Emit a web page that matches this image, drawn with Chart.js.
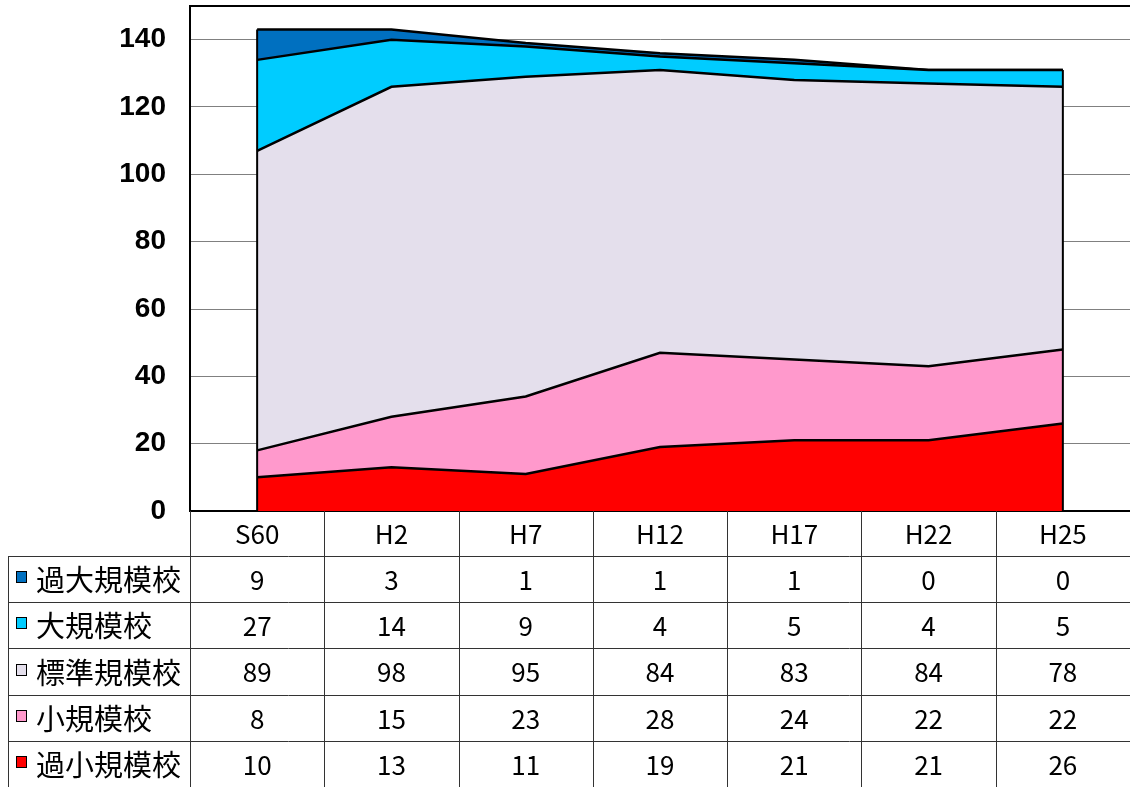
<!DOCTYPE html>
<html lang="ja">
<head>
<meta charset="utf-8">
<script src="https://cdn.jsdelivr.net/npm/chart.js@4.4.1/dist/chart.umd.min.js"></script>
<style>
  html, body { margin: 0; padding: 0; background: #fff; }
  #wrap { width: 1130px; height: 787px; }
</style>
</head>
<body>
<div id="wrap"><canvas id="areaChart" width="1130" height="787"></canvas></div>
<script>
// data
const categories = ['S60', 'H2', 'H7', 'H12', 'H17', 'H22', 'H25'];
const kashoValues = [10, 13, 11, 19, 21, 21, 26];    // 過小規模校
const shoValues = [8, 15, 23, 28, 24, 22, 22];       // 小規模校
const hyojunValues = [89, 98, 95, 84, 83, 84, 78];   // 標準規模校
const daiValues = [27, 14, 9, 4, 5, 4, 5];           // 大規模校
const kadaiValues = [9, 3, 1, 1, 1, 0, 0];           // 過大規模校
const seriesNames = ['過小規模校', '小規模校', '標準規模校', '大規模校', '過大規模校'];
const seriesColors = ['#ff0000', '#ff99cc', '#e4dfec', '#00ccff', '#0070c0'];
const yTicks = [0, 20, 40, 60, 80, 100, 120, 140];
const yMax = 150;

const seriesValues = [kashoValues, shoValues, hyojunValues, daiValues, kadaiValues];

const tableFont = '"Noto Sans CJK JP", "Noto Sans", sans-serif';

// Draws the top frame, the area's end edges and the data table under the plot
const tablePlugin = {
    id: 'dataTable',
    afterDatasetsDraw(chart) {
        const ctx = chart.ctx;
        const area = chart.chartArea;
        const y = chart.scales.y;
        const topMeta = chart.getDatasetMeta(chart.data.datasets.length - 1);
        const first = topMeta.data[0];
        const last = topMeta.data[topMeta.data.length - 1];

        ctx.save();
        ctx.strokeStyle = '#000';
        ctx.lineWidth = 2;
        ctx.beginPath();
        ctx.moveTo(first.x, y.getPixelForValue(0));
        ctx.lineTo(first.x, first.y);
        ctx.moveTo(last.x, y.getPixelForValue(0));
        ctx.lineTo(last.x, last.y);
        ctx.stroke();

        // top frame
        ctx.beginPath();
        ctx.moveTo(area.left - 1, area.top);
        ctx.lineTo(area.right, area.top);
        ctx.stroke();
        ctx.restore();
    },
    afterDraw(chart) {
        const ctx = chart.ctx;
        const area = chart.chartArea;
        const x = chart.scales.x;
        const band = (area.right - area.left) / categories.length;
        const headerH = 45;
        const rowH = (chart.height - area.bottom - headerH) / seriesNames.length;
        const tableTop = area.bottom;
        const bodyTop = tableTop + headerH;
        const labelLeft = 8;

        ctx.save();
        ctx.strokeStyle = '#333';
        ctx.lineWidth = 1;

        // horizontal lines
        for (let r = 0; r < seriesNames.length; r++) {
            const ly = Math.round(bodyTop + r * rowH) + 0.5;
            ctx.beginPath();
            ctx.moveTo(labelLeft, ly);
            ctx.lineTo(area.right, ly);
            ctx.stroke();
        }
        // vertical lines
        ctx.beginPath();
        ctx.moveTo(labelLeft + 0.5, bodyTop);
        ctx.lineTo(labelLeft + 0.5, chart.height);
        ctx.stroke();
        for (let i = 0; i < categories.length; i++) {
            const lx = Math.round(area.left + i * band) + 0.5;
            ctx.beginPath();
            ctx.moveTo(lx, tableTop);
            ctx.lineTo(lx, chart.height);
            ctx.stroke();
        }

        ctx.fillStyle = '#000';
        ctx.textBaseline = 'middle';
        ctx.textAlign = 'center';
        ctx.font = '26px ' + tableFont;
        categories.forEach((c, i) => {
            ctx.fillText(c, x.getPixelForValue(i), tableTop + headerH / 2 + 1);
        });

        // rows top to bottom are the stack from top to bottom
        for (let r = 0; r < seriesNames.length; r++) {
            const s = seriesNames.length - 1 - r;
            const cy = bodyTop + r * rowH + rowH / 2;

            ctx.fillStyle = seriesColors[s];
            ctx.fillRect(16.5, Math.round(cy - 8) + 0.5, 10, 11);
            ctx.strokeStyle = '#000';
            ctx.strokeRect(16.5, Math.round(cy - 8) + 0.5, 10, 11);

            ctx.fillStyle = '#000';
            ctx.textAlign = 'left';
            ctx.font = '29px ' + tableFont;
            ctx.fillText(seriesNames[s], 36, cy + 1);

            ctx.textAlign = 'center';
            ctx.font = '26px ' + tableFont;
            seriesValues[s].forEach((v, i) => {
                ctx.fillText(String(v), x.getPixelForValue(i), cy + 1);
            });
        }
        ctx.restore();
    }
};

function initChart() {
    const datasets = seriesNames.map((name, i) => ({
        label: name,
        data: seriesValues[i],
        backgroundColor: seriesColors[i],
        borderColor: '#000',
        borderWidth: 2.5,
        pointRadius: 0,
        tension: 0,
        fill: i === 0 ? 'origin' : '-1'
    }));

    new Chart(document.getElementById('areaChart').getContext('2d'), {
        type: 'line',
        data: { labels: categories, datasets: datasets },
        options: {
            responsive: false,
            animation: false,
            layout: { padding: { top: 6, bottom: 276, left: 0, right: 0 } },
            plugins: { legend: { display: false }, tooltip: { enabled: false } },
            scales: {
                x: {
                    type: 'category',
                    display: false,
                    offset: true
                },
                y: {
                    stacked: true,
                    min: 0,
                    max: yMax,
                    afterFit: (scale) => {
                        scale.width = 190;
                        scale.paddingTop = 0;
                        scale.paddingBottom = 0;
                    },
                    afterBuildTicks: (scale) => { scale.ticks = yTicks.map(v => ({ value: v })); },
                    border: { display: true, color: '#000', width: 2 },
                    grid: {
                        drawTicks: false,
                        color: (c) => c.tick && c.tick.value === 0 ? '#000' : '#808080',
                        lineWidth: (c) => c.tick && c.tick.value === 0 ? 2 : 1
                    },
                    ticks: {
                        padding: 24,
                        color: '#000',
                        font: { family: '"Liberation Sans", Arial, sans-serif', size: 28, weight: 'bold' }
                    }
                }
            }
        },
        plugins: [tablePlugin]
    });
}

Promise.all([
    document.fonts.load('29px "Noto Sans CJK JP"', '過大規模校標準小'),
    document.fonts.load('bold 28px "Liberation Sans"', '0123456789')
]).then(initChart, initChart);
</script>
</body>
</html>
